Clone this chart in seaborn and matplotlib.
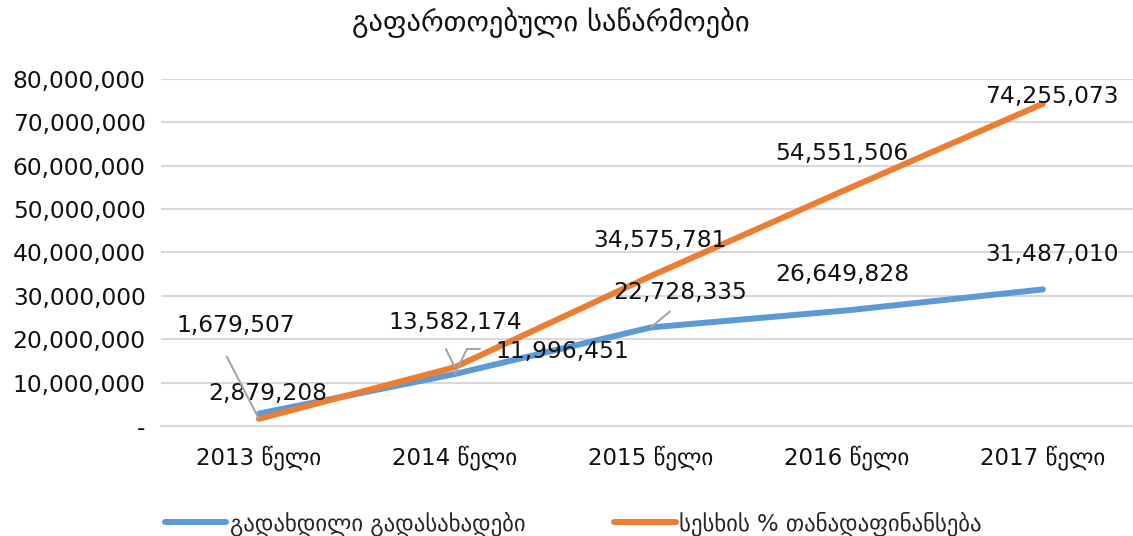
import matplotlib
matplotlib.use("Agg")
import matplotlib.pyplot as plt
import seaborn as sns
import pandas as pd
from matplotlib.ticker import FuncFormatter

categories = ["2013 წელი", "2014 წელი", "2015 წელი", "2016 წელი", "2017 წელი"]
series_names = ["გადახდილი გადასახადები", "სესხის % თანადაფინანსება"]
paid_taxes = [2879208, 11996451, 22728335, 26649828, 31487010]
loan_cofinancing = [1679507, 13582174, 34575781, 54551506, 74255073]
title = "გაფართოებული საწარმოები"

sns.set_theme(style="white")
plt.rcParams['font.family'] = ['DejaVu Sans']

df = pd.DataFrame({
    "x": list(range(len(categories))) * 2,
    "value": paid_taxes + loan_cofinancing,
    "series": [series_names[0]] * len(categories) + [series_names[1]] * len(categories),
})

colors = {series_names[0]: "#5B9BD5", series_names[1]: "#ED7D31"}

fig = plt.figure(figsize=(11.33, 5.36), dpi=100)
ax = fig.add_axes([0.142, 0.205, 0.858, 0.648])
sns.lineplot(data=df, x="x", y="value", hue="series", palette=colors,
             linewidth=4.3, ax=ax, sort=False, legend=True,
             solid_capstyle="round")

ax.set_xlim(-0.5, 4.46)
ax.set_ylim(0, 80000000)
ax.set_yticks(range(0, 80000001, 10000000))
ax.yaxis.set_major_formatter(FuncFormatter(lambda v, p: "-" if v == 0 else f"{int(v):,}"))
ax.set_xticks(range(len(categories)))
ax.set_xticklabels(categories)
ax.tick_params(axis="y", labelsize=16.8, length=0, colors="#111111", pad=11)
ax.tick_params(axis="x", labelsize=16.5, length=0, colors="#111111", pad=14)
ax.grid(axis="y", color="#D9D9D9", linewidth=1.5)
ax.set_axisbelow(True)
for s in ["left", "right", "top"]:
    ax.spines[s].set_visible(False)
ax.spines["bottom"].set_color("#D9D9D9")
ax.spines["bottom"].set_linewidth(1.5)
ax.set_xlabel("")
ax.set_ylabel("")

# data labels (offsets in pixels)
blue_off = [(9, 20), (107, 23), (29, 35), (-5, 36), (9, 35)]
orange_off = [(-23, 93), (0, 45), (9, 36), (-5, 36), (9, 7)]
for i, v in enumerate(paid_taxes):
    ax.annotate(f"{v:,}", (i, v), xytext=blue_off[i], textcoords="offset pixels",
                ha="center", va="center", fontsize=16.8, color="#111111")
for i, v in enumerate(loan_cofinancing):
    ax.annotate(f"{v:,}", (i, v), xytext=orange_off[i], textcoords="offset pixels",
                ha="center", va="center", fontsize=16.8, color="#111111")

# leader lines
lc = "#A6A6A6"
ax.annotate("", (0, loan_cofinancing[0]), xytext=(-32, 62), textcoords="offset pixels",
            arrowprops=dict(arrowstyle="-", color=lc, lw=1.5, shrinkA=0, shrinkB=0))
ax.annotate("", (1, loan_cofinancing[1]), xytext=(-9, 18), textcoords="offset pixels",
            arrowprops=dict(arrowstyle="-", color=lc, lw=1.5, shrinkA=0, shrinkB=0))
ax.annotate("", (1, paid_taxes[1]), xytext=(12, 25), textcoords="offset pixels",
            arrowprops=dict(arrowstyle="-", color=lc, lw=1.5, shrinkA=0, shrinkB=0))
x0 = ax.transData.transform((1, paid_taxes[1]))
ax.annotate("", xy=(x0[0] + 12, x0[1] + 25), xycoords="figure pixels",
            xytext=(x0[0] + 25, x0[1] + 25), textcoords="figure pixels",
            arrowprops=dict(arrowstyle="-", color=lc, lw=1.5, shrinkA=0, shrinkB=0))
ax.annotate("", (2, paid_taxes[2]), xytext=(19, 16), textcoords="offset pixels",
            arrowprops=dict(arrowstyle="-", color=lc, lw=1.5, shrinkA=0, shrinkB=0))

fig.text(0.486, 0.958, title, fontsize=20.5, ha="center", va="center", color="#111111")

leg = ax.legend(loc="center", bbox_to_anchor=(0.424, -0.28), ncol=2, frameon=False,
                fontsize=16.4, handlelength=2.7, columnspacing=3.9, handletextpad=0.15)
for line in leg.get_lines():
    line.set_linewidth(4.3)

fig.savefig("out.png", dpi=100)
